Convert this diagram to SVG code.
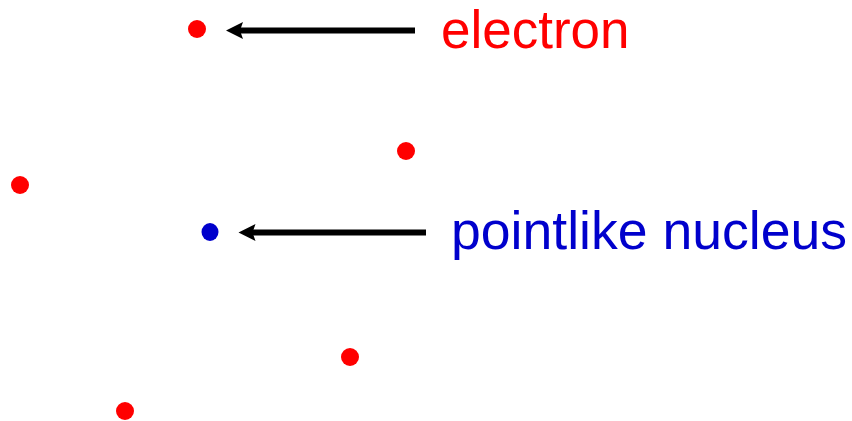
<svg xmlns="http://www.w3.org/2000/svg" width="852" height="421" viewBox="0 0 852 421">
<style>
.e{fill:#ff0000}
.n{fill:#0000cc}
.lbl{font-family:"Liberation Sans",Arial,sans-serif;font-size:53px}
.arr{stroke:#000;stroke-width:6;fill:none}
</style>
<defs>
<marker id="ah" markerUnits="userSpaceOnUse" markerWidth="20" markerHeight="20" refX="4" refY="8.5" orient="auto">
<path d="M17,8.5 L0,0 L3,8.5 L0,17 Z" fill="#000"/>
</marker>
</defs>
<rect width="852" height="421" fill="#fff"/>
<g id="electron1"><circle class="e" cx="197" cy="29" r="9"/></g>
<g id="electron2"><circle class="e" cx="406" cy="151" r="9"/></g>
<g id="electron3"><circle class="e" cx="20" cy="185" r="9"/></g>
<g id="electron4"><circle class="e" cx="350" cy="357" r="9"/></g>
<g id="electron5"><circle class="e" cx="125" cy="411" r="9"/></g>
<g id="nucleus"><ellipse class="n" cx="210" cy="232" rx="8.5" ry="9"/></g>
<g id="label-electron"><text class="lbl e" x="441" y="48">electron</text></g>
<g id="label-nucleus"><text class="lbl n" x="451" y="249" textLength="396" lengthAdjust="spacingAndGlyphs">pointlike nucleus</text></g>
<g id="connectors">
<line class="arr" x1="415" y1="30.5" x2="239" y2="30.5" marker-end="url(#ah)"/>
<line class="arr" x1="426" y1="232.5" x2="251.5" y2="232.5" marker-end="url(#ah)"/>
</g>
</svg>
